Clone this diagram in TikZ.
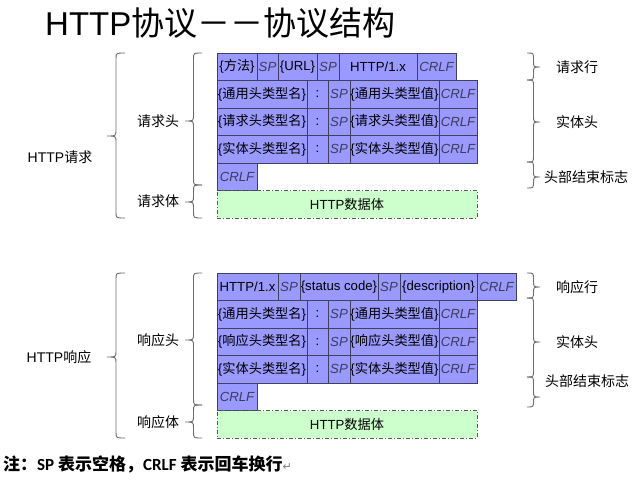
\documentclass[tikz,border=0pt]{standalone}
\usepackage{fontspec}
\setmainfont{Liberation Sans}
\newfontfamily\cjk{Noto Sans CJK SC}
\newfontfamily\calib{Carlito}
\newfontfamily\dejavu{DejaVu Sans}
\usetikzlibrary{positioning}

\definecolor{cellfill}{RGB}{153,153,255}
\definecolor{cellline}{RGB}{64,64,96}
\definecolor{bodyfill}{RGB}{204,255,204}
\definecolor{bodyline}{RGB}{90,90,90}
\definecolor{bracecol}{RGB}{110,110,110}
\definecolor{softtext}{RGB}{60,60,90}

% curly brace: x, top, tip, bottom, depth (negative = tip to the left)
\newcommand{\drawcurly}[5]{%
	\pgfmathsetmacro\crlspine{#1+#5/2}
	\pgfmathsetmacro\crltip{#1+#5}
	\draw[curlyline] (#1,#2) .. controls (\crlspine,#2) .. (\crlspine,#2+6)
		-- (\crlspine,#3-6) .. controls (\crlspine,#3) .. (\crltip,#3)
		.. controls (\crlspine,#3) .. (\crlspine,#3+6)
		-- (\crlspine,#4-6) .. controls (\crlspine,#4) .. (#1,#4);
}
\newcommand{\sptext}{\itshape\color{softtext}}

\begin{document}
\begin{tikzpicture}[x=1pt, y=-1pt, >=latex]
	\tikzstyle{cell} = [rectangle, draw=cellline, fill=cellfill, line width=0.8pt, minimum height=27.5pt, inner sep=0pt, outer sep=0pt, font=\fontsize{13.2}{15}\selectfont]
	\tikzstyle{body} = [rectangle, draw=bodyline, fill=bodyfill, line width=0.8pt, dash pattern=on 4pt off 2pt on 1pt off 2pt, minimum width=260pt, minimum height=27.5pt, inner sep=0pt, outer sep=0pt, font=\fontsize{13.2}{15}\selectfont]
	\tikzstyle{lbl} = [inner sep=0pt, font=\fontsize{14}{16}\selectfont]
	\tikzstyle{curlyline} = [draw=bracecol, line width=0.9pt]
	\path[use as bounding box, fill=white] (0,0) rectangle (640,480);

	\node[inner sep=0pt, anchor=base west, font=\fontsize{33}{36}\selectfont] (title) at (45,35) {HTTP{\cjk 协议－－协议结构}};

	% request
	\node[cell, minimum width=40pt, anchor=north west] (rmeth) at (217,53) {\{{\cjk 方法}\}};
	\node[cell, minimum width=21pt, right=0pt of rmeth] (rsp1) {\sptext SP};
	\node[cell, minimum width=39pt, right=0pt of rsp1] (rurl) {\{URL\}};
	\node[cell, minimum width=22pt, right=0pt of rurl] (rsp2) {\sptext SP};
	\node[cell, minimum width=78pt, right=0pt of rsp2] (rver) {HTTP/1.x};
	\node[cell, minimum width=39pt, right=0pt of rver] (rcrlf) {\sptext CRLF};
	\foreach \kind/\i/\prev in {通用/1/rmeth, 请求/2/rn1, 实体/3/rn2} {
		\node[cell, minimum width=90pt, anchor=north west] (rn\i) at (\prev.south west) {\{{\cjk \kind 头类型名}\}};
		\node[cell, minimum width=21pt, right=0pt of rn\i] (rc\i) {:};
		\node[cell, minimum width=22pt, right=0pt of rc\i] (rs\i) {\sptext SP};
		\node[cell, minimum width=89pt, right=0pt of rs\i] (rv\i) {\{{\cjk \kind 头类型值}\}};
		\node[cell, minimum width=38pt, right=0pt of rv\i] (rl\i) {\sptext CRLF};
	}
	\node[cell, minimum width=40pt, anchor=north west] (rend) at (rn3.south west) {\sptext CRLF};
	\node[body, anchor=north west] (rbody) at (rend.south west) {HTTP{\cjk 数据体}};

	% response
	\node[cell, minimum width=61pt, anchor=north west] (aver) at (217,273) {HTTP/1.x};
	\node[cell, minimum width=22pt, right=0pt of aver] (asp1) {\sptext SP};
	\node[cell, minimum width=78pt, right=0pt of asp1] (acode) {\{status code\}};
	\node[cell, minimum width=22pt, right=0pt of acode] (asp2) {\sptext SP};
	\node[cell, minimum width=77pt, right=0pt of asp2] (adesc) {\{description\}};
	\node[cell, minimum width=39pt, right=0pt of adesc] (acrlf) {\sptext CRLF};
	\foreach \kind/\i/\prev in {通用/1/aver, 响应/2/an1, 实体/3/an2} {
		\node[cell, minimum width=90pt, anchor=north west] (an\i) at (\prev.south west) {\{{\cjk \kind 头类型名}\}};
		\node[cell, minimum width=21pt, right=0pt of an\i] (ac\i) {:};
		\node[cell, minimum width=22pt, right=0pt of ac\i] (as\i) {\sptext SP};
		\node[cell, minimum width=89pt, right=0pt of as\i] (av\i) {\{{\cjk \kind 头类型值}\}};
		\node[cell, minimum width=38pt, right=0pt of av\i] (al\i) {\sptext CRLF};
	}
	\node[cell, minimum width=40pt, anchor=north west] (aend) at (an3.south west) {\sptext CRLF};
	\node[body, anchor=north west] (abody) at (aend.south west) {HTTP{\cjk 数据体}};

	% braces
	\drawcurly{125}{53}{136}{218}{-18}
	\drawcurly{202}{53}{121}{185}{-17}
	\drawcurly{202}{185}{202}{218}{-17}
	\drawcurly{527}{53}{67}{80}{13}
	\drawcurly{527}{80}{122}{162}{13}
	\drawcurly{527}{162}{177}{188}{13}
	\drawcurly{125}{273}{357}{438}{-18}
	\drawcurly{202}{273}{340}{405}{-17}
	\drawcurly{202}{405}{422}{438}{-17}
	\drawcurly{527}{273}{287}{298}{13}
	\drawcurly{527}{298}{342}{377}{13}
	\drawcurly{527}{377}{397}{407}{13}

	% labels
	\node[lbl] (reqall) at (60,157) {HTTP{\cjk 请求}};
	\node[lbl] (reqhead) at (158,121) {\cjk 请求头};
	\node[lbl] (reqbd) at (158,201) {\cjk 请求体};
	\node[lbl] (reqline) at (577,67) {\cjk 请求行};
	\node[lbl] (reqent) at (577,122) {\cjk 实体头};
	\node[lbl] (reqstop) at (586,177) {\cjk 头部结束标志};
	\node[lbl] (resall) at (59,357) {HTTP{\cjk 响应}};
	\node[lbl] (reshead) at (158,340) {\cjk 响应头};
	\node[lbl] (resbd) at (158,422) {\cjk 响应体};
	\node[lbl] (resline) at (577,287) {\cjk 响应行};
	\node[lbl] (resent) at (577,342) {\cjk 实体头};
	\node[lbl] (resstop) at (587,381) {\cjk 头部结束标志};

	\node[inner sep=0pt, anchor=west, font=\fontsize{17}{19}\selectfont] (note) at (3,464)
		{{\cjk\bfseries 注：}{\calib\bfseries SP }{\cjk\bfseries 表示空格，}{\calib\bfseries CRLF }{\cjk\bfseries 表示回车换行}{\dejavu\fontsize{11}{12}\selectfont\color{gray}↵}};
\end{tikzpicture}
\end{document}
